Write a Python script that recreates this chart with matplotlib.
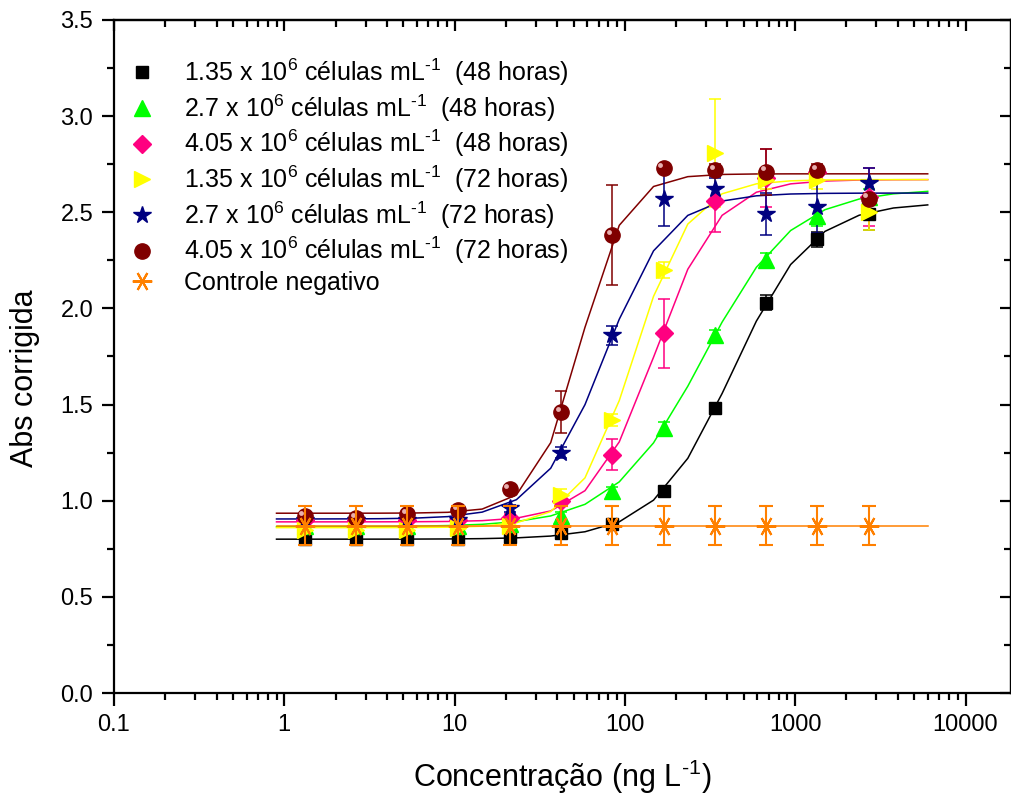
# dose-response curves: Abs corrigida vs concentration, logistic fits
import numpy as np
import matplotlib
matplotlib.use('Agg')
from matplotlib import pyplot as plt
from matplotlib.lines import Line2D
from matplotlib.transforms import offset_copy
from matplotlib.ticker import FixedLocator, LogLocator, MultipleLocator, FuncFormatter, NullFormatter

plt.rcParams['font.family'] = ['Liberation Sans', 'DejaVu Sans']
plt.rcParams['mathtext.fontset'] = 'custom'
plt.rcParams['mathtext.rm'] = 'Liberation Sans'
plt.rcParams['mathtext.it'] = 'Liberation Sans:italic'

# --- data ---
conc = [1.32, 2.64, 5.27, 10.5, 21.1, 42.2, 84.4, 169, 338, 675, 1350, 2700]

abs_135_48 = [0.80, 0.80, 0.80, 0.80, 0.81, 0.83, 0.88, 1.05, 1.48, 2.03, 2.36, 2.49]
err_135_48 = [0.03, 0.03, 0.03, 0.02, 0.02, 0.02, 0.02, 0.02, 0.03, 0.04, 0.04, 0.08]

abs_27_48 = [0.87, 0.87, 0.87, 0.87, 0.88, 0.92, 1.05, 1.38, 1.86, 2.25, 2.48, 2.58]
err_27_48 = [0.02, 0.02, 0.02, 0.02, 0.02, 0.02, 0.02, 0.03, 0.03, 0.04, 0.05, 0.04]

abs_405_48 = [0.90, 0.90, 0.90, 0.90, 0.91, 1.00, 1.24, 1.87, 2.56, 2.68, 2.71, 2.58]
err_405_48 = [0.02, 0.02, 0.02, 0.02, 0.02, 0.03, 0.08, 0.18, 0.16, 0.15, 0.03, 0.15]

abs_135_72 = [0.85, 0.85, 0.85, 0.86, 0.87, 1.03, 1.42, 2.20, 2.81, 2.67, 2.67, 2.50]
err_135_72 = [0.02, 0.02, 0.02, 0.02, 0.02, 0.03, 0.03, 0.04, 0.28, 0.05, 0.05, 0.09]

abs_27_72 = [0.90, 0.90, 0.90, 0.90, 0.96, 1.25, 1.86, 2.57, 2.62, 2.49, 2.53, 2.65]
err_27_72 = [0.02, 0.02, 0.02, 0.02, 0.02, 0.03, 0.05, 0.14, 0.06, 0.11, 0.14, 0.08]

abs_405_72 = [0.92, 0.91, 0.93, 0.95, 1.06, 1.46, 2.38, 2.73, 2.72, 2.71, 2.72, 2.57]
err_405_72 = [0.02, 0.02, 0.02, 0.02, 0.02, 0.11, 0.26, 0.02, 0.03, 0.12, 0.03, 0.03]

abs_ctrl = [0.87, 0.87, 0.87, 0.87, 0.87, 0.87, 0.87, 0.87, 0.87, 0.87, 0.87, 0.87]
err_ctrl = [0.10, 0.10, 0.10, 0.10, 0.10, 0.10, 0.10, 0.10, 0.10, 0.10, 0.10, 0.10]

# logistic fit parameters: A1 (bottom), A2 (top), x0, p
fit_a1 = [0.80, 0.865, 0.89, 0.86, 0.905, 0.935]
fit_a2 = [2.55, 2.62, 2.67, 2.67, 2.60, 2.70]
fit_x0 = [429., 287., 152., 114., 76., 55.]
fit_p = [1.9, 1.66, 2.4, 2.67, 2.32, 3.3]
fit_range = [0.9, 6000.]

sup = '$^{\\text{-1}}$'
labels = [
    '1.35 x 10$^6$ células mL' + sup + '  (48 horas)',
    '2.7 x 10$^6$ células mL' + sup + '  (48 horas)',
    '4.05 x 10$^6$ células mL' + sup + '  (48 horas)',
    '1.35 x 10$^6$ células mL' + sup + '  (72 horas)',
    '2.7 x 10$^6$ células mL' + sup + '  (72 horas)',
    '4.05 x 10$^6$ células mL' + sup + '  (72 horas)',
    'Controle negativo',
]

series = [abs_135_48, abs_27_48, abs_405_48, abs_135_72, abs_27_72, abs_405_72]
errors = [err_135_48, err_27_48, err_405_48, err_135_72, err_27_72, err_405_72]
colors = ['#000000', '#00FF00', '#FF0080', '#FFFF00', '#000080', '#800000']
markers = ['s', '^', 'D', '>', '*', 'o']
msizes = [8.5, 12, 9, 12, 13, 11]
ctrl_color = '#FF8000'

# --- drawing ---
fig = plt.figure(figsize=(10.12, 8.0), dpi=100)
ax = fig.add_axes([114/1012, 107/800, 897/1012, 673/800])
ax.set_xscale('log')

xfit = np.logspace(np.log10(fit_range[0]), np.log10(fit_range[1]), 20)
for a1, a2, x0, p, col in zip(fit_a1, fit_a2, fit_x0, fit_p, colors):
    yfit = a2 + (a1 - a2) / (1 + (xfit / x0) ** p)
    ax.plot(xfit, yfit, color=col, lw=1.1, zorder=2)

for yy, ee, col, mk, ms in zip(series, errors, colors, markers, msizes):
    ax.errorbar(conc, yy, yerr=ee, fmt=mk, color=col, ms=ms, mec=col,
                ecolor=col, elinewidth=1.1, capsize=4.5, capthick=1.1, zorder=3)

# little highlight on the dark-red balls
hl = offset_copy(ax.transData, fig=fig, x=-2.5, y=2.5, units='points')
ax.plot(conc, abs_405_72, ls='none', marker='o', ms=3.5, mew=0, color='#E8B0B0',
        transform=hl, zorder=3.5)

ax.plot(fit_range, [abs_ctrl[0], abs_ctrl[0]], color=ctrl_color, lw=1.1, zorder=4)
ax.errorbar(conc, abs_ctrl, yerr=err_ctrl, fmt='none', ecolor=ctrl_color,
            elinewidth=1.5, capsize=5, capthick=1.5, zorder=5)
ax.plot(conc, abs_ctrl, ls='none', marker=(6, 2, 30), ms=14, mew=1.5,
        color=ctrl_color, zorder=5)

ax.set_xlim(0.1, 18500)
ax.set_ylim(0, 3.5)

ax.xaxis.set_major_locator(FixedLocator([0.1, 1, 10, 100, 1000, 10000]))
ax.xaxis.set_major_formatter(FuncFormatter(lambda v, pos: f'{v:g}'))
ax.xaxis.set_minor_locator(LogLocator(base=10, subs=np.arange(2, 10), numticks=20))
ax.xaxis.set_minor_formatter(NullFormatter())
ax.yaxis.set_major_locator(MultipleLocator(0.5))
ax.yaxis.set_minor_locator(MultipleLocator(0.25))
ax.yaxis.set_major_formatter(FuncFormatter(lambda v, pos: f'{v:.1f}'))

for sp in ax.spines.values():
    sp.set_linewidth(1.6)
ax.tick_params(which='major', direction='out', length=9, width=1.6, labelsize=17, pad=6)
ax.tick_params(which='minor', direction='out', length=5, width=1.6)

# mirrored axes: ticks pointing inward on top and right
axt = ax.secondary_xaxis('top')
axt.xaxis.set_major_locator(FixedLocator([0.1, 1, 10, 100, 1000, 10000]))
axt.xaxis.set_minor_locator(LogLocator(base=10, subs=np.arange(2, 10), numticks=20))
axt.xaxis.set_minor_formatter(NullFormatter())
axt.tick_params(which='major', direction='in', length=8, width=1.6, labeltop=False)
axt.tick_params(which='minor', direction='in', length=5, width=1.6)
axr = ax.secondary_yaxis('right')
axr.yaxis.set_major_locator(MultipleLocator(0.5))
axr.yaxis.set_minor_locator(MultipleLocator(0.25))
axr.tick_params(which='major', direction='in', length=8, width=1.6, labelright=False)
axr.tick_params(which='minor', direction='in', length=5, width=1.6)
for a in (axt, axr):
    for sp in a.spines.values():
        sp.set_linewidth(1.6)

ax.set_xlabel('Concentração (ng L' + sup + ')', fontsize=22, labelpad=16)
ax.set_ylabel('Abs corrigida', fontsize=22)
ax.yaxis.set_label_coords(-0.082, 0.468)

handles = [Line2D([], [], ls='none', marker=mk, color=col, ms=ms)
           for col, mk, ms in zip(colors, markers, msizes)]
handles.append(Line2D([], [], ls='none', marker=(6, 2, 30), ms=14, mew=1.5, color=ctrl_color))
ax.legend(handles, labels, loc='upper left', bbox_to_anchor=(-0.011, 0.979), frameon=False,
          fontsize=18, labelspacing=0.17, handlelength=1.2, handletextpad=1.1,
          borderaxespad=0.5)

fig.savefig('out.png', dpi=100)
